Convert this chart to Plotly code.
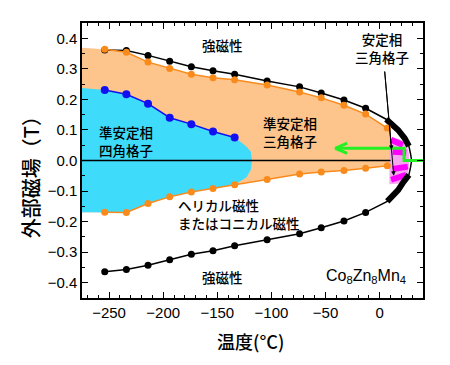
import plotly.graph_objects as go

# ---- data ----
temps = [-254, -234, -214, -194, -174, -154, -134, -104, -74, -54, -33, -13]
black_upper = [0.362, 0.360, 0.344, 0.325, 0.307, 0.294, 0.282, 0.260, 0.241, 0.221, 0.198, 0.171]
black_lower = [-0.364, -0.357, -0.343, -0.325, -0.307, -0.295, -0.279, -0.259, -0.240, -0.220, -0.198, -0.170]

orange_T = [-254, -234, -214, -194, -174, -154, -134, -104, -74, -54, -33, -13, 7]
orange_upper = [0.364, 0.354, 0.322, 0.301, 0.282, 0.271, 0.264, 0.247, 0.224, 0.205, 0.181, 0.152, 0.106]
orange_lower = [-0.169, -0.170, -0.141, -0.119, -0.103, -0.092, -0.079, -0.062, -0.044, -0.038, -0.033, -0.025, -0.017]

blue_T = [-254, -234, -214, -194, -174, -154, -134]
blue_B = [0.231, 0.217, 0.186, 0.140, 0.119, 0.095, 0.075]

# boundary of the metastable square-lattice region (right side)
cyan_edge_T = [-129, -123, -119, -118, -119, -123, -130, -134]
cyan_edge_B = [0.062, 0.045, 0.029, 0.0, -0.030, -0.055, -0.070, -0.079]
left_T = -275
cyan_left_top = 0.237
orange_left_top = 0.369
fill_left_bottom = -0.169
orange_edge_T = 10

# stable triangular lattice boundary near T_c (thick black)
edge_up_T = [6, 12, 17, 23, 27]
edge_up_B = [0.135, 0.118, 0.100, 0.073, 0.047]
edge_lo_T = [7, 13, 17, 22, 27]
edge_lo_B = [-0.134, -0.113, -0.097, -0.070, -0.047]
nose_T = [27, 28.5, 29.5, 28.5, 27]
nose_B = [0.047, 0.022, 0.0, -0.022, -0.047]

# stable triangular lattice region (pink) and magenta strokes
pink_T = [9, 18, 25, 27, 27, 25, 18, 9]
pink_B = [0.075, 0.070, 0.055, 0.020, -0.020, -0.060, -0.075, -0.078]
magenta_strokes = [
    ([10.5, 21.5], [0.068, 0.051]),
    ([12, 24.5], [0.029, 0.026]),
    ([12, 26], [-0.028, -0.020]),
    ([10.5, 24.5], [-0.063, -0.047]),
]

# green field-cooling path
green_T = [41, 22.5, 22.5, -41]
green_B = [0.0, 0.0, 0.040, 0.040]
green_head_T = [-30, -41, -30]
green_head_B = [0.057, 0.040, 0.023]

zero_T = [-275, 10]

FONT_JP = "Noto Sans CJK JP"
FONT_NUM = "Liberation Sans, Arial"

fig = go.Figure()

# orange fill (metastable triangular lattice)
ox = [left_T] + orange_T + [orange_edge_T, orange_edge_T] + orange_T[::-1] + [left_T]
oy = [orange_left_top] + orange_upper + [orange_upper[-1], orange_lower[-1]] + orange_lower[::-1] + [fill_left_bottom]
fig.add_trace(go.Scatter(x=ox, y=oy, fill="toself", fillcolor="#fdc48c", line=dict(width=0),
                         mode="lines", hoverinfo="skip", showlegend=False))

# cyan fill (metastable square lattice)
cx = [left_T] + blue_T + cyan_edge_T + orange_T[5::-1] + [left_T]
cy = [cyan_left_top] + blue_B + cyan_edge_B + orange_lower[5::-1] + [fill_left_bottom]
fig.add_trace(go.Scatter(x=cx, y=cy, fill="toself", fillcolor="#3edbfb", line=dict(width=0),
                         mode="lines", hoverinfo="skip", showlegend=False))

# pink region
fig.add_trace(go.Scatter(x=pink_T, y=pink_B, fill="toself", fillcolor="#f5a6ef", line=dict(width=0),
                         mode="lines", hoverinfo="skip", showlegend=False))

# zero line
fig.add_trace(go.Scatter(x=zero_T, y=[0, 0], mode="lines", line=dict(color="black", width=1.5),
                         showlegend=False, hoverinfo="skip"))

# magenta strokes
for sx, sy in magenta_strokes:
    fig.add_trace(go.Scatter(x=sx, y=sy, mode="lines", line=dict(color="#ff00ff", width=6),
                             showlegend=False, hoverinfo="skip"))

# black boundary (thin full curve)
bx = temps + edge_up_T + nose_T[1:-1] + edge_lo_T[::-1] + temps[::-1]
by = black_upper + edge_up_B + nose_B[1:-1] + edge_lo_B[::-1] + black_lower[::-1]
fig.add_trace(go.Scatter(x=bx, y=by, mode="lines", line=dict(color="black", width=1.5),
                         showlegend=False, hoverinfo="skip"))
fig.add_trace(go.Scatter(x=temps, y=black_upper, mode="markers", marker=dict(color="black", size=7),
                         showlegend=False))
fig.add_trace(go.Scatter(x=temps, y=black_lower, mode="markers", marker=dict(color="black", size=7),
                         showlegend=False))
# thick black
fig.add_trace(go.Scatter(x=edge_up_T, y=edge_up_B, mode="lines", line=dict(color="black", width=6),
                         showlegend=False))
fig.add_trace(go.Scatter(x=edge_lo_T, y=edge_lo_B, mode="lines", line=dict(color="black", width=6),
                         showlegend=False))

# orange lines
for yy in (orange_upper, orange_lower):
    fig.add_trace(go.Scatter(x=orange_T, y=yy, mode="lines+markers",
                             line=dict(color="#f98b1c", width=1.5),
                             marker=dict(color="#f98b1c", size=7), showlegend=False))

# blue line
fig.add_trace(go.Scatter(x=blue_T, y=blue_B, mode="lines+markers",
                         line=dict(color="#1010f0", width=1.5),
                         marker=dict(color="#1010f0", size=8), showlegend=False))

# green path
fig.add_trace(go.Scatter(x=green_T, y=green_B, mode="lines", line=dict(color="#22f022", width=3),
                         showlegend=False, cliponaxis=False))
fig.add_trace(go.Scatter(x=green_head_T, y=green_head_B, mode="lines", line=dict(color="#22f022", width=3),
                         showlegend=False))

# black arrows from label
for (tx, ty) in [(11, 0.035), (13, -0.05)]:
    fig.add_annotation(x=tx, y=ty, ax=4.5, ay=0.296, xref="x", yref="y", axref="x", ayref="y",
                       showarrow=True, arrowhead=2, arrowsize=0.9, arrowwidth=1, arrowcolor="black", text="")

def label(x, y, t, size=13.5, xanchor="center"):
    fig.add_annotation(x=x, y=y, xref="x", yref="y", text=t, showarrow=False, xanchor=xanchor,
                       yanchor="middle",
                       font=dict(family=FONT_JP, size=size, color="black", weight=500),
                       align="left" if xanchor == "left" else "center")

label(-145, 0.378, "強磁性")
label(2, 0.368, "安定相<br>三角格子")
label(-83, 0.094, "準安定相<br>三角格子")
label(-234, 0.064, "準安定相<br>四角格子")
label(-188.5, -0.176, "ヘリカル磁性<br>またはコニカル磁性", xanchor="left")
label(-145, -0.38, "強磁性")
fig.add_annotation(x=26, y=-0.38, xref="x", yref="y", xanchor="right", yanchor="middle", showarrow=False,
                   text="Co<sub>8</sub>Zn<sub>8</sub>Mn<sub>4</sub>",
                   font=dict(family=FONT_NUM, size=16, color="black"))

# axis titles
fig.add_annotation(x=-0.152, y=0.458, xref="paper", yref="paper", text="外部磁場（T）", textangle=-90,
                   xanchor="center", yanchor="middle",
                   showarrow=False, font=dict(family=FONT_JP, size=20, color="black", weight=500))
fig.add_annotation(x=0.493, y=-0.156, xref="paper", yref="paper", text="温度(°C)",
                   xanchor="center", yanchor="middle",
                   showarrow=False, font=dict(family=FONT_JP, size=18, color="black", weight=500))

axis_common = dict(showline=True, linecolor="black", linewidth=1.5, mirror="ticks", ticks="inside",
                   ticklen=6, tickwidth=1.2, tickcolor="black", showgrid=False, zeroline=False,
                   tickfont=dict(family=FONT_NUM, size=15, color="black"))
fig.update_xaxes(range=[-275, 40], dtick=50, tick0=0,
                 minor=dict(dtick=10, ticks="inside", ticklen=3, tickcolor="black", tickwidth=1.2),
                 **axis_common)
fig.update_yaxes(range=[-0.45, 0.45], dtick=0.1, tick0=0, tickformat=".1f",
                 minor=dict(dtick=0.05, ticks="inside", ticklen=3, tickcolor="black", tickwidth=1.2),
                 **axis_common)

# the page body adds an 8 px offset; margins compensate so the plot area matches the reference
fig.update_layout(width=450, height=365, margin=dict(l=74, r=35, t=15, b=75),
                  paper_bgcolor="white", plot_bgcolor="white", showlegend=False)

fig.write_html("out.html")
